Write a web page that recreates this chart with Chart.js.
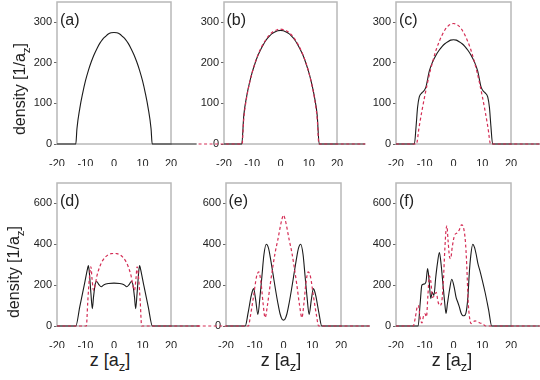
<!DOCTYPE html>
<html><head><meta charset="utf-8">
<script src="https://cdn.jsdelivr.net/npm/chart.js@4.4.1/dist/chart.umd.min.js"></script>
<style>
html,body{margin:0;padding:0;background:#fff;width:540px;height:380px;overflow:hidden;font-family:"Liberation Sans",Arial,Helvetica,sans-serif;color:#222}
canvas{position:absolute}
.plab{position:absolute;font-size:16px;line-height:16px;white-space:nowrap}
.ytitle{position:absolute;font-size:16px;line-height:20px;white-space:nowrap;transform:translate(-50%,-50%) rotate(-90deg)}
.xtitle{position:absolute;font-size:18px;line-height:20px;white-space:nowrap;transform:translate(-50%,-50%)}
sub{font-size:72%;vertical-align:-5px;line-height:0}
</style></head><body>
<script>
// ---- tick labels & texts ----
const xTicks = [-20, -10, 0, 10, 20];
const yTicksTop = [0, 100, 200, 300];
const yTicksBottom = [0, 200, 400, 600];
const panelLabels = ['(a)', '(b)', '(c)', '(d)', '(e)', '(f)'];

// ---- panel (a) ----
const aSolidZ = [-20,-13.4,-13,-12,-11,-10,-9,-8,-7,-6,-5,-4,-3,-2,-1,0,1,2,3,4,5,6,7,8,9,10,11,12,13,13.4,20,29];
const aSolidN = [0,0,38,88,125,156,181,202,220,235,248,258,265,271,274,275,274,271,265,258,248,235,220,202,181,156,125,88,38,0,0,0];

// ---- panel (b) ----
const bSolidZ = [-20,-13.7,-13,-12,-11,-10,-9,-8,-7,-6,-5,-4,-3,-2,-1,0,1,2,3,4,5,6,7,8,9,10,11,12,13,13.7,20,30];
const bSolidN = [0,0,70,117,150,177,199,218,233,246,257,265,272,276,279,280,279,276,272,265,257,246,233,218,199,177,150,117,70,0,0,0];
const bDashZ = [-29,-20,-13.6,-13,-12,-11,-10,-9,-8,-7,-6,-5,-4,-3,-2,-1,0,1,2,3,4,5,6,7,8,9,10,11,12,13,13.6,20,30];
const bDashN = [0,0,0,62,114,149,177,200,219,235,248,259,268,275,279,282,283,282,279,275,268,259,248,235,219,200,177,149,114,62,0,0,0];

// ---- panel (c) ----
const cSolidZ = [-20,-13.6,-13,-12.5,-11.9,-11,-10.2,-9.6,-8.4,-7.3,-6.1,-5,-4,-3,-2,-1,0,1,2,3,4,5,6.1,7.3,8.4,9.6,10.2,11,11.9,12.5,13,13.6,20,30];
const cSolidN = [0,0,45,90,116,126,132,140,180,202,219,231,240,247,252,256,257,256,252,247,240,231,219,202,180,140,132,126,116,90,45,0,0,0];
const cDashZ = [-20,-12.9,-12,-11,-10,-9,-8,-7,-6,-5,-4,-3,-2,-1,0,1,2,3,4,5,6,7,8,9,10,11,12,12.9,20,30];
const cDashN = [0,0,40,81,118,152,183,209,233,252,268,281,290,295,297,295,290,281,268,252,233,209,183,152,118,81,40,0,0,0];

// ---- panel (d) ----
const dSolidZ = [-20,-13.4,-12,-10.5,-9.3,-9.0,-8.7,-8.1,-7.6,-7.2,-6.6,-6.1,-5.3,-4.5,-3.5,-2,0,2,3.5,4.5,5.3,6.1,6.6,7.2,7.6,8.1,8.7,9.0,9.3,10.5,12,13.5,20,30];
const dSolidN = [0,0,95,196,280,296,270,160,85,140,205,218,203,192,202,208,210,208,202,192,203,218,205,140,85,160,270,296,280,196,95,0,0,0];
const dDashZ = [-20,-9.7,-9.2,-8.6,-8.1,-7.7,-7.2,-6.6,-6,-5,-4,-3,-2,-1,0,1,2,3,4,5,6,6.6,7.2,7.7,8.1,8.6,9.2,9.7,20,30];
const dDashN = [0,0,120,240,290,230,175,200,245,290,320,338,349,354,355,354,349,338,320,290,245,200,175,230,290,240,120,0,0,0];

// ---- panel (e) ----
const eSolidZ = [-20,-13.3,-12.3,-11.2,-10.4,-9.7,-8.9,-8.2,-7.5,-6.8,-6,-5.2,-4.4,-3.6,-2.8,-2,-1.2,-0.5,0,0.5,1.2,2,2.8,3.6,4.4,5.2,6,6.8,7.5,8.2,8.9,9.7,10.4,11.2,12.3,13.3,20,30];
const eSolidN = [0,0,65,150,183,130,57,140,245,350,400,380,320,250,180,115,60,33,29,33,60,115,180,250,320,380,400,350,245,140,57,130,183,150,65,0,0,0];
const eDashZ = [-30,-20,-12.2,-11.5,-10.4,-9.4,-8.6,-7.8,-7.1,-6.4,-5.6,-4.6,-3.6,-2.9,-2,-1.2,-0.5,0,0.5,1.2,2,2.9,3.6,4.6,5.6,6.4,7.1,7.8,8.6,9.4,10.4,11.5,12.2,20,30];
const eDashN = [0,0,0,50,147,240,265,210,110,41,100,205,300,360,420,480,525,543,525,480,420,360,300,205,100,41,110,210,265,240,147,50,0,0,0];

// ---- panel (f) ----
const fSolidZ = [-20,-12.3,-11.6,-11.0,-10.3,-9.6,-9.0,-8.5,-7.9,-7.4,-6.8,-6.2,-5.6,-4.9,-4.3,-3.7,-3.1,-2.6,-2.1,-1.4,-0.6,0.3,0.9,1.4,2.0,2.6,3.1,3.6,4.3,5.0,5.5,6.0,6.7,7.3,7.9,8.5,9.2,10.0,11.0,12.2,13.3,20,30];
const fSolidN = [0,0,110,200,205,215,281,225,134,165,150,235,305,360,300,210,120,62,110,175,229,185,140,120,95,65,52,50,62,140,260,343,400,385,350,305,270,225,164,80,0,0,0];
const fDashZ = [-20,-14,-13.3,-12.6,-12.2,-11.6,-11.0,-10.4,-9.9,-9.4,-8.9,-8.4,-7.9,-7.3,-6.6,-6.0,-5.4,-4.8,-4.2,-3.6,-3.0,-2.6,-2.3,-1.9,-1.4,-1.0,-0.4,0.4,1.2,2.0,2.8,3.5,4.1,4.6,5.1,5.6,6.1,6.8,7.5,8.3,9.2,10.2,11.2,20,30];
const fDashN = [0,0,40,95,100,40,15,50,60,45,150,245,220,140,150,165,120,100,110,200,380,470,490,420,340,330,390,445,455,470,495,480,420,300,120,40,12,20,25,20,15,10,0,0,0];

// ---- layout (pixel boxes of each plot frame) ----
const FONT = '"Liberation Sans", Arial, Helvetica, sans-serif';
const boxes = [
  {L:57, R:171, T:2, B:144},
  {L:223.5, R:336.5, T:2, B:144},
  {L:396, R:511, T:2, B:144},
  {L:57, R:171, T:183.3, B:326.7},
  {L:225.5, R:340.5, T:183.3, B:326.7},
  {L:396, R:511, T:183.3, B:326.7}
];
const YW = 45, XH = 22, PR = 36, PT = 4;
const RED = '#d42d55', BLACK = '#1b1b1b';
const X_MIN = -20, X_MAX = 20;

function pts(z, n){ return z.map((v,i)=>({x:v, y:n[i]})); }
function solid(z,n){ return {data:pts(z,n), borderColor:BLACK, borderWidth:1.1, pointRadius:0, cubicInterpolationMode:'monotone', clip:false, fill:false}; }
function dash(z,n){ return {data:pts(z,n), borderColor:RED, borderWidth:1.2, borderDash:[3,2.5], pointRadius:0, cubicInterpolationMode:'monotone', clip:false, fill:false}; }

const frame = {id:'frame', beforeDatasetsDraw(c){
  const a=c.chartArea, ctx=c.ctx; ctx.save();
  ctx.strokeStyle='#b8b8b8'; ctx.lineWidth=1.5;
  ctx.strokeRect(a.left, a.top, a.right-a.left, a.bottom-a.top);
  ctx.restore();
}};

function makePanel(i, yMax, yTicks, datasets){
  const b = boxes[i];
  const cv = document.createElement('canvas');
  const w = Math.round(b.R-b.L) + YW + PR, h = Math.round(b.B-b.T) + PT + XH;
  cv.width = w; cv.height = h;
  cv.style.left = (b.L-YW)+'px'; cv.style.top = (b.T-PT)+'px';
  cv.style.width = w+'px'; cv.style.height = h+'px';
  document.body.appendChild(cv);
  new Chart(cv, {
    type:'line',
    data:{datasets},
    options:{
      responsive:false, animation:false, events:[],
      layout:{padding:{left:0, top:PT, right:PR, bottom:0}},
      plugins:{legend:{display:false}, tooltip:{enabled:false}},
      scales:{
        x:{type:'linear', bounds:'data',
          afterDataLimits:s=>{ s.min=X_MIN; s.max=X_MAX; },
          afterBuildTicks:s=>{ s.min=X_MIN; s.max=X_MAX; s.ticks = xTicks.map(v=>({value:v})); },
          afterFit:s=>{ s.height=XH; s.paddingLeft=0; s.paddingRight=0; },
          grid:{display:false}, border:{display:false},
          ticks:{padding:5, color:'#222', font:{size:11, family:FONT}, maxRotation:0, autoSkip:false}},
        y:{type:'linear', min:0, max:yMax,
          afterBuildTicks:s=>{ s.ticks = yTicks.map(v=>({value:v})); },
          afterFit:s=>{ s.width=YW; s.paddingTop=0; s.paddingBottom=0; },
          grid:{display:true, drawOnChartArea:false, drawTicks:true, tickLength:3, color:'#666', lineWidth:1},
          border:{display:false},
          ticks:{padding:2, color:'#222', font:{size:11, family:FONT}, autoSkip:false}}
      }
    },
    plugins:[frame]
  });
  const lab = document.createElement('div');
  lab.className='plab'; lab.textContent = panelLabels[i];
  lab.style.left = (b.L+3)+'px'; lab.style.top = (b.T+10)+'px';
  document.body.appendChild(lab);
}

makePanel(0, 350, yTicksTop, [solid(aSolidZ,aSolidN)]);
makePanel(1, 350, yTicksTop, [dash(bDashZ,bDashN), solid(bSolidZ,bSolidN)]);
makePanel(2, 350, yTicksTop, [dash(cDashZ,cDashN), solid(cSolidZ,cSolidN)]);
makePanel(3, 700, yTicksBottom, [dash(dDashZ,dDashN), solid(dSolidZ,dSolidN)]);
makePanel(4, 700, yTicksBottom, [dash(eDashZ,eDashN), solid(eSolidZ,eSolidN)]);
makePanel(5, 700, yTicksBottom, [dash(fDashZ,fDashN), solid(fSolidZ,fSolidN)]);

// axis titles
function addY(cx, cy){
  const d=document.createElement('div'); d.className='ytitle';
  d.innerHTML='density [1/a<sub>z</sub>]';
  d.style.left=cx+'px'; d.style.top=cy+'px'; document.body.appendChild(d);
}
addY(20, 89); addY(14, 272);
function addX(cx, cy){
  const d=document.createElement('div'); d.className='xtitle';
  d.innerHTML='z [a<sub>z</sub>]';
  d.style.left=cx+'px'; d.style.top=cy+'px'; document.body.appendChild(d);
}
addX(110, 360); addX(281, 360); addX(452, 360);
</script>
</body></html>
